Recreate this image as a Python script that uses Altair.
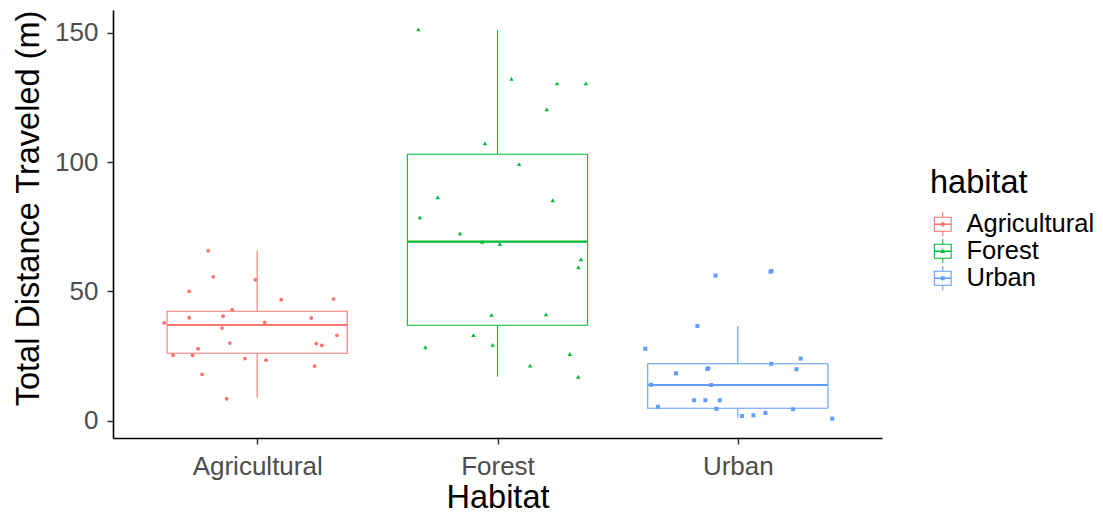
import altair as alt
import pandas as pd

cats = ["Agricultural", "Forest", "Urban"]
colors = ["#F8766D", "#00BA38", "#619CFF"]

# jittered points: horizontal jitter offset (category units) and value
agri_jit = [-0.204, -0.183, -0.283, -0.008, 0.100, 0.318, -0.104, -0.283, -0.142, -0.387,
            0.031, 0.225, -0.146, 0.332, -0.114, 0.246, 0.269, -0.246, -0.350, -0.269,
            -0.051, 0.037, -0.229, 0.239, -0.127]
agri_val = [65.7, 55.6, 50.0, 54.5, 46.8, 47.0, 42.9, 39.8, 40.4, 37.8,
            38.0, 39.7, 35.8, 33.0, 30.0, 29.8, 29.1, 27.8, 25.3, 25.3,
            24.0, 23.4, 17.9, 21.1, 8.5]

forest_jit = [-0.329, 0.058, 0.248, 0.368, 0.205, -0.052, 0.090, -0.249, 0.230, -0.323,
              -0.156, -0.064, 0.010, 0.347, 0.337, -0.025, 0.202, -0.100, -0.300, -0.020,
              0.301, 0.136, 0.336]
forest_val = [151.3, 132.2, 130.4, 130.4, 120.4, 107.2, 99.2, 86.4, 85.2, 78.6,
              72.4, 69.2, 68.3, 62.4, 59.3, 40.9, 41.1, 33.1, 28.4, 29.3,
              25.8, 21.3, 17.0]

urban_jit = [-0.093, 0.136, 0.140, -0.168, -0.385, 0.262, 0.139, -0.257, -0.127, -0.123,
             0.244, -0.361, -0.111, -0.182, -0.135, -0.075, -0.332, -0.089, 0.017, 0.065,
             0.115, 0.230, 0.393]
urban_val = [56.1, 57.6, 57.9, 36.6, 27.8, 24.0, 22.0, 18.3, 20.0, 20.3,
             19.9, 13.9, 13.8, 7.9, 7.9, 7.9, 5.4, 4.6, 1.8, 2.1,
             3.0, 4.4, 0.8]

# boxplot summaries
q1 = [26.1, 36.9, 4.8]
med = [37.0, 69.2, 13.8]
q3 = [42.3, 103.0, 22.0]
wlo = [8.9, 17.0, 1.3]
whi = [65.7, 151.0, 36.6]

rows = []
for i, (jit, vals) in enumerate([(agri_jit, agri_val), (forest_jit, forest_val), (urban_jit, urban_val)]):
    for j, v in zip(jit, vals):
        rows.append({"habitat": cats[i], "xj": i + 1 + j, "val": v})
pts = pd.DataFrame(rows)
summ = pd.DataFrame({"habitat": cats, "idx": [1, 2, 3], "q1": q1, "med": med,
                     "q3": q3, "wlo": wlo, "whi": whi})

FONT = "Liberation Sans"
color_scale = alt.Scale(domain=cats, range=colors)
xscale = alt.Scale(domain=[0.4, 3.6], nice=False, zero=False)
yscale = alt.Scale(domain=[-6.69, 158.77], nice=False, zero=False)

label_expr = " : ".join(
    [f"datum.value == {i + 1} ? '{c}'" for i, c in enumerate(cats[:-1])]) + f" : '{cats[-1]}'"

xaxis = alt.Axis(values=[1, 2, 3], labelExpr=label_expr, title="Habitat",
                 labelFlush=False, labelPadding=9, titleBaseline="alphabetic",
                 titleY=69, titleX=384.5)
yaxis = alt.Axis(values=[0, 50, 100, 150], title="Total Distance Traveled (m)",
                 labelPadding=9, titleBaseline="alphabetic", titleX=-75, titleY=198)

col_nolegend = alt.Color("habitat:N", scale=color_scale, legend=None)

base_s = alt.Chart(summ)
wl = base_s.mark_rule(strokeWidth=1.1).encode(
    x=alt.X("idx:Q", scale=xscale, axis=xaxis),
    y=alt.Y("wlo:Q", scale=yscale, axis=yaxis), y2="q1:Q", color=col_nolegend)
wh = base_s.mark_rule(strokeWidth=1.1).encode(
    x=alt.X("idx:Q", scale=xscale, axis=xaxis),
    y=alt.Y("q3:Q", scale=yscale, axis=yaxis), y2="whi:Q", color=col_nolegend)
box = base_s.transform_calculate(
    xl="datum.idx - 0.375", xr="datum.idx + 0.375"
).mark_rect(filled=False, strokeWidth=1.1).encode(
    x=alt.X("xl:Q", scale=xscale, axis=xaxis), x2="xr:Q",
    y=alt.Y("q1:Q", scale=yscale, axis=yaxis), y2="q3:Q", color=col_nolegend)
medl = base_s.transform_calculate(
    xl="datum.idx - 0.375", xr="datum.idx + 0.375"
).mark_rule(strokeWidth=2.2).encode(
    x=alt.X("xl:Q", scale=xscale, axis=xaxis), x2="xr:Q",
    y=alt.Y("med:Q", scale=yscale, axis=yaxis), color=col_nolegend)

shapes = ["circle", "triangle-up", "square"]
sizes = [15, 20, 16]
point_layers = []
for c, shp, sz in zip(cats, shapes, sizes):
    point_layers.append(
        alt.Chart(pts).transform_filter(alt.datum.habitat == c).mark_point(
            filled=True, shape=shp, size=sz, opacity=1).encode(
            x=alt.X("xj:Q", scale=xscale, axis=xaxis),
            y=alt.Y("val:Q", scale=yscale, axis=yaxis),
            color=col_nolegend))


# legend glyphs: boxplot key (frame + whiskers + median) plus the point marker
def rect_cw(l, t, r, b):
    return f"M{l},{t}L{r},{t}L{r},{b}L{l},{b}Z"


def rect_ccw(l, t, r, b):
    return f"M{l},{t}L{l},{b}L{r},{b}L{r},{t}Z"


bw, bh, th = 0.70, 0.58, 0.045
frame = rect_cw(-bw - th, -bh - th, bw + th, bh + th) + rect_ccw(-bw + th, -bh + th, bw - th, bh - th)
whisk = rect_cw(-th, -1, th, -bh) + rect_cw(-th, bh, th, 1)
median = rect_cw(-bw, -0.06, bw, 0.06)
r = 0.19
m_circle = f"M{-r},0A{r},{r} 0 1,1 {r},0A{r},{r} 0 1,1 {-r},0Z"
m_tri = "M0,-0.25L0.22,0.14L-0.22,0.14Z"
m_sq = rect_cw(-0.17, -0.17, 0.17, 0.17)
glyphs = [frame + whisk + median + m for m in (m_circle, m_tri, m_sq)]

leg = dict(title="habitat", orient="none", legendX=817, legendY=157,
           titleFontSize=32.5, labelFontSize=25.5, titleFont=FONT, labelFont=FONT,
           titleColor="black", labelColor="black", titleFontWeight="normal",
           symbolSize=576, symbolStrokeWidth=0, labelOffset=11, rowPadding=-1,
           titlePadding=12, padding=0, labelLimit=300)

legend_layer = alt.Chart(pts).transform_filter("false").mark_point(
    filled=True, size=576, opacity=1).encode(
    x=alt.X("xj:Q", scale=xscale, axis=xaxis),
    y=alt.Y("val:Q", scale=yscale, axis=yaxis),
    color=alt.Color("habitat:N", scale=color_scale, legend=alt.Legend(**leg)),
    shape=alt.Shape("habitat:N", scale=alt.Scale(domain=cats, range=glyphs),
                    legend=alt.Legend(**leg)))

chart = alt.layer(wl, wh, box, medl, *point_layers, legend_layer).resolve_scale(
    color="independent", shape="independent"
).properties(
    width=769, height=428,
    padding={"left": 105, "top": 2, "right": 213, "bottom": 76},
    autosize=alt.AutoSizeParams(type="none"),
).configure_view(stroke=None).configure_axis(
    grid=False, domainColor="black", domainWidth=1.6, tickColor="#333333",
    tickWidth=1.5, tickSize=6, labelFontSize=26, labelColor="#4D4D4D",
    labelFont=FONT, titleFont=FONT, titleFontSize=32.5, titleColor="black",
    titleFontWeight="normal")

chart.save("out.html", embed_options={"renderer": "svg", "actions": False})
